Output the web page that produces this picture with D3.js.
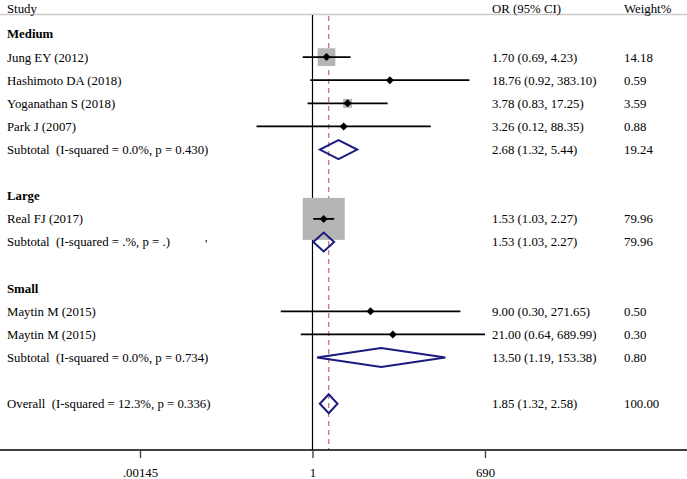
<!DOCTYPE html>
<html>
<head>
	<meta charset="utf-8">
	<title>Forest plot</title>
	<script type="text/javascript" src="https://cdn.jsdelivr.net/npm/d3@7/dist/d3.min.js"></script>
	<style type="text/css">
	     body{
	     	margin:0;
	     	background:#fff;
	     }
	     text{
	     	font-family:"Liberation Serif","Times New Roman",serif;
	     	font-size:12.8px;
	     	fill:#000;
	     	white-space:pre;
	     }
	     .grp{
	     	font-weight:bold;
	     }
	</style>
</head>
<body>
<div id="chart"></div>
<script type="text/javascript">
    var W=687,H=479;

    // data
    var groupNames=["Medium","Large","Small"];
    var studyNames=["Jung EY (2012)","Hashimoto DA (2018)","Yoganathan S (2018)","Park J (2007)","Real FJ (2017)","Maytin M (2015)","Maytin M (2015)"];
    var studyGroup=[0,0,0,0,1,2,2];
    var studyOR=[1.70,18.76,3.78,3.26,1.53,9.00,21.00];
    var studyLo=[0.69,0.92,0.83,0.12,1.03,0.30,0.64];
    var studyHi=[4.23,383.10,17.25,88.35,2.27,271.65,689.99];
    var studyWt=[14.18,0.59,3.59,0.88,79.96,0.50,0.30];
    var subHet=["I-squared = 0.0%, p = 0.430","I-squared = .%, p = .","I-squared = 0.0%, p = 0.734"];
    var subOR=[2.68,1.53,13.50];
    var subLo=[1.32,1.03,1.19];
    var subHi=[5.44,2.27,153.38];
    var subWt=[19.24,79.96,0.80];
    var overallHet="I-squared = 12.3%, p = 0.336";
    var overallOR=1.85,overallLo=1.32,overallHi=2.58,overallWt=100.00;
    var tickValues=[0.00145,1,690];
    var tickLabels=[".00145","1","690"];

    // build the rows (header, studies, subtotal, blank) per group
    var rows=[];
    var r=1;
    groupNames.forEach(function(g,gi){
        rows.push({type:"group",label:g,row:r++});
        studyNames.forEach(function(s,i){
            if(studyGroup[i]!==gi) return;
            rows.push({type:"study",label:s,or:studyOR[i],lo:studyLo[i],hi:studyHi[i],wt:studyWt[i],row:r++});
        });
        rows.push({type:"sub",label:"Subtotal  ("+subHet[gi]+")",or:subOR[gi],lo:subLo[gi],hi:subHi[gi],wt:subWt[gi],row:r++});
        r++;
    });
    rows.push({type:"sub",label:"Overall  ("+overallHet+")",or:overallOR,lo:overallLo,hi:overallHi,wt:overallWt,row:r++});
    var axisRow=r+1;

    var x=d3.scaleLog().domain([0.00145,690]).range([140,485]);
    var y=d3.scaleLinear().domain([1,axisRow]).range([34,450]);
    var box=d3.scaleSqrt().domain([0,100]).range([0,47]);
    var f2=d3.format(".2f");

    var svg=d3.select("#chart").append("svg")
        .attr("width",W).attr("height",H);

    // header
    svg.append("line")
        .attr("x1",0).attr("x2",W)
        .attr("y1",14.5).attr("y2",14.5)
        .attr("stroke","#cccccc").attr("stroke-width",1.6);
    svg.append("text").attr("x",7).attr("y",9).attr("dy","0.35em").text("Study");
    svg.append("text").attr("x",492).attr("y",9).attr("dy","0.35em").text("OR (95% CI)");
    svg.append("text").attr("x",624).attr("y",9).attr("dy","0.35em").text("Weight%");

    // null line and overall line
    svg.append("line")
        .attr("x1",x(1)).attr("x2",x(1))
        .attr("y1",15).attr("y2",y(axisRow))
        .attr("stroke","#000").attr("stroke-width",1.2);
    svg.append("line")
        .attr("x1",x(overallOR)).attr("x2",x(overallOR))
        .attr("y1",16).attr("y2",y(axisRow))
        .attr("stroke","#c26b6b").attr("stroke-width",1.2)
        .attr("stroke-dasharray","5,4");

    var studies=rows.filter(function(d){return d.type==="study";});
    var subs=rows.filter(function(d){return d.type==="sub";});

    // weight boxes
    svg.selectAll(".box")
        .data(studies)
        .enter()
        .append("rect")
        .attr("class","box")
        .attr("x",function(d){return x(d.or)-box(d.wt)/2;})
        .attr("y",function(d){return y(d.row)-box(d.wt)/2;})
        .attr("width",function(d){return box(d.wt);})
        .attr("height",function(d){return box(d.wt);})
        .attr("fill","#b5b5b5");

    // confidence intervals
    svg.selectAll(".ci")
        .data(studies)
        .enter()
        .append("line")
        .attr("class","ci")
        .attr("x1",function(d){return x(d.lo);})
        .attr("x2",function(d){return x(d.hi);})
        .attr("y1",function(d){return y(d.row);})
        .attr("y2",function(d){return y(d.row);})
        .attr("stroke","#000").attr("stroke-width",1.8);

    // point estimates
    svg.selectAll(".pt")
        .data(studies)
        .enter()
        .append("path")
        .attr("class","pt")
        .attr("d",function(d){
            var cx=x(d.or),cy=y(d.row),s=4;
            return "M"+(cx-s)+","+cy+"L"+cx+","+(cy-s)+"L"+(cx+s)+","+cy+"L"+cx+","+(cy+s)+"Z";
        })
        .attr("fill","#000");

    // pooled diamonds
    svg.selectAll(".dia")
        .data(subs)
        .enter()
        .append("path")
        .attr("class","dia")
        .attr("d",function(d){
            var cy=y(d.row),h=9.5;
            return "M"+x(d.lo)+","+cy+"L"+x(d.or)+","+(cy-h)+"L"+x(d.hi)+","+cy+"L"+x(d.or)+","+(cy+h)+"Z";
        })
        .attr("fill","none")
        .attr("stroke","#1a1a80").attr("stroke-width",2);

    // left labels
    svg.selectAll(".lab")
        .data(rows)
        .enter()
        .append("text")
        .attr("class",function(d){return d.type==="group"?"lab grp":"lab";})
        .attr("x",7)
        .attr("y",function(d){return y(d.row);})
        .attr("dy","0.35em")
        .text(function(d){return d.label;});

    var num=rows.filter(function(d){return d.type!=="group";});
    svg.selectAll(".orTxt")
        .data(num)
        .enter()
        .append("text")
        .attr("class","orTxt")
        .attr("x",492)
        .attr("y",function(d){return y(d.row);})
        .attr("dy","0.35em")
        .text(function(d){return f2(d.or)+" ("+f2(d.lo)+", "+f2(d.hi)+")";});
    svg.selectAll(".wtTxt")
        .data(num)
        .enter()
        .append("text")
        .attr("class","wtTxt")
        .attr("x",624)
        .attr("y",function(d){return y(d.row);})
        .attr("dy","0.35em")
        .text(function(d){return f2(d.wt);});

    // stray mark in the Large subtotal row
    svg.append("text").attr("x",205).attr("y",y(10)).attr("dy","0.5em").text("'");

    // x axis
    var axisY=y(axisRow);
    svg.append("line")
        .attr("x1",0).attr("x2",W)
        .attr("y1",axisY).attr("y2",axisY)
        .attr("stroke","#000").attr("stroke-width",1.6);
    var ax=svg.append("g")
        .attr("transform","translate(0,"+axisY+")")
        .call(d3.axisBottom(x).tickValues(tickValues)
            .tickFormat(function(d,i){return tickLabels[i];})
            .tickSize(8).tickSizeOuter(0).tickPadding(10));
    ax.select(".domain").remove();
    ax.selectAll(".tick line").attr("stroke","#444").attr("stroke-width",1.4);
    ax.selectAll(".tick text")
        .style("font-family","\"Liberation Serif\",\"Times New Roman\",serif")
        .style("font-size","12.8px")
        .attr("fill","#000");
</script>
</body>
</html>
